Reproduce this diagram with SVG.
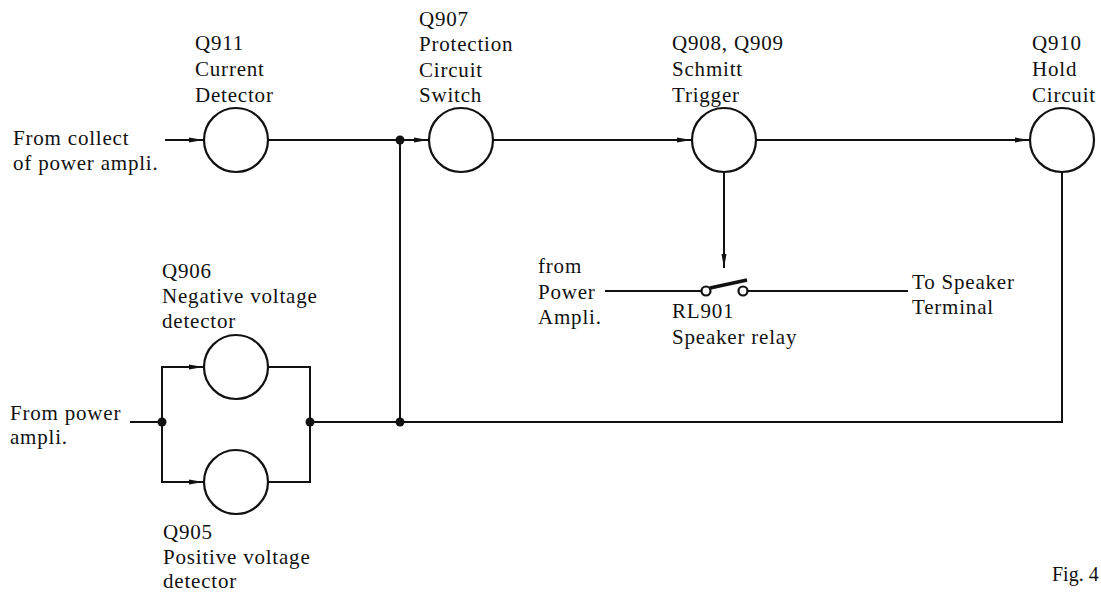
<svg xmlns="http://www.w3.org/2000/svg" width="1101" height="592" viewBox="0 0 1101 592">
<style>
text{font-family:"Liberation Serif","Times New Roman",serif;font-size:21px;letter-spacing:0.8px;fill:#111}
.node{fill:#fff;stroke:#111;stroke-width:2.2}
.wire{fill:none;stroke:#111;stroke-width:2}
.dot{fill:#111}
</style>
<defs>
<marker id="arr" viewBox="0 0 14 8" refX="14" refY="4" markerWidth="14" markerHeight="8" markerUnits="userSpaceOnUse" orient="auto">
<path d="M0,1.5 L14,4 L0,6.5 Z" fill="#111"/>
</marker>
</defs>
<rect width="1101" height="592" fill="#fff"/>
<g id="connectors">
<path class="wire" d="M165,140 H203" marker-end="url(#arr)"/>
<path class="wire" d="M269,140 H428" marker-end="url(#arr)"/>
<path class="wire" d="M493,140 H691" marker-end="url(#arr)"/>
<path class="wire" d="M756,140 H1029" marker-end="url(#arr)"/>
<path class="wire" d="M724,172 V268" marker-end="url(#arr)"/>
<path class="wire" d="M400,140 V422"/>
<path class="wire" d="M1062,172 V422 H310"/>
<path class="wire" d="M130,422 H162"/>
<path class="wire" d="M162,422 V367 H203" marker-end="url(#arr)"/>
<path class="wire" d="M162,422 V482 H203" marker-end="url(#arr)"/>
<path class="wire" d="M268,367 H310 V482 H268"/>
<path class="wire" d="M605,291 H702"/>
<path class="wire" d="M747,291 H908"/>
<circle class="dot" cx="400" cy="140" r="4.5"/>
<circle class="dot" cx="400" cy="422" r="4.5"/>
<circle class="dot" cx="162" cy="422" r="4.5"/>
<circle class="dot" cx="310" cy="422" r="4.5"/>
</g>
<g id="relay">
<circle cx="706" cy="291" r="4.5" fill="#fff" stroke="#111" stroke-width="2.2"/>
<circle cx="743" cy="291" r="4.5" fill="#fff" stroke="#111" stroke-width="2.2"/>
<path d="M710,288 L747,280" stroke="#111" stroke-width="3.5" fill="none"/>
<text x="672" y="318">RL901</text>
<text x="672" y="344">Speaker relay</text>
</g>
<g id="q911">
<circle class="node" cx="236" cy="140" r="32"/>
<text x="195" y="50">Q911</text>
<text x="195" y="76">Current</text>
<text x="195" y="102">Detector</text>
</g>
<g id="q907">
<circle class="node" cx="461" cy="140" r="32"/>
<text x="419" y="26">Q907</text>
<text x="419" y="51">Protection</text>
<text x="419" y="77">Circuit</text>
<text x="419" y="102">Switch</text>
</g>
<g id="q908">
<circle class="node" cx="724" cy="140" r="32"/>
<text x="672" y="50">Q908, Q909</text>
<text x="672" y="76">Schmitt</text>
<text x="672" y="102">Trigger</text>
</g>
<g id="q910">
<circle class="node" cx="1062" cy="140" r="32"/>
<text x="1032" y="50">Q910</text>
<text x="1032" y="76">Hold</text>
<text x="1032" y="102">Circuit</text>
</g>
<g id="q906">
<circle class="node" cx="236" cy="367" r="32"/>
<text x="162" y="278">Q906</text>
<text x="162" y="303">Negative voltage</text>
<text x="162" y="328">detector</text>
</g>
<g id="q905">
<circle class="node" cx="236" cy="482" r="32"/>
<text x="163" y="539">Q905</text>
<text x="163" y="564">Positive voltage</text>
<text x="163" y="588">detector</text>
</g>
<g id="labels">
<text x="13" y="145">From collect</text>
<text x="13" y="170">of power ampli.</text>
<text x="10" y="420">From power</text>
<text x="10" y="444">ampli.</text>
<text x="538" y="273">from</text>
<text x="538" y="299">Power</text>
<text x="538" y="324">Ampli.</text>
<text x="912" y="289">To Speaker</text>
<text x="912" y="314">Terminal</text>
<text x="1052" y="581" style="font-size:20px;letter-spacing:0">Fig. 4</text>
</g>
</svg>
